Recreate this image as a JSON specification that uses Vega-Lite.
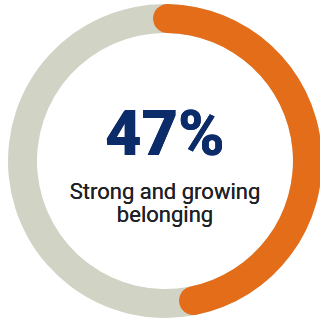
{
  "$schema": "https://vega.github.io/schema/vega-lite/v6.json",
  "width": 320,
  "height": 320,
  "autosize": {"type": "fit", "contains": "padding"},
  "padding": {"left": 10, "top": 2, "right": 0, "bottom": 0},
  "background": "white",
  "view": {"stroke": null},
  "data": {"values": [
    {"category": "Strong and growing belonging", "value": 47},
    {"category": "Other", "value": 53}
  ]},
  "layer": [
    {
      "mark": {"type": "arc", "outerRadius": 157, "innerRadius": 128, "color": "#D1D3C5"},
      "encoding": {
        "theta": {"field": "value", "type": "quantitative"}
      }
    },
    {
      "transform": [{"filter": "datum.category === 'Strong and growing belonging'"}],
      "mark": {"type": "arc", "outerRadius": 157, "innerRadius": 128, "cornerRadius": 14.5, "color": "#E46D1A"},
      "encoding": {
        "theta": {"field": "value", "type": "quantitative", "scale": {"domain": [0, 100], "range": [-0.084, 6.567]}}
      }
    },
    {
      "mark": {"type": "text", "text": "47%", "font": "Roboto", "fontWeight": 900, "fontSize": 63, "color": "#0B2B69", "align": "center", "baseline": "alphabetic", "dy": -6},
      "encoding": {}
    },
    {
      "mark": {"type": "text", "text": ["Strong and growing", "belonging"], "font": "Roboto", "fontSize": 22, "lineHeight": 23, "color": "#1E2126", "align": "center", "baseline": "alphabetic", "dy": 38},
      "encoding": {}
    }
  ],
  "resolve": {"scale": {"theta": "independent"}}
}
